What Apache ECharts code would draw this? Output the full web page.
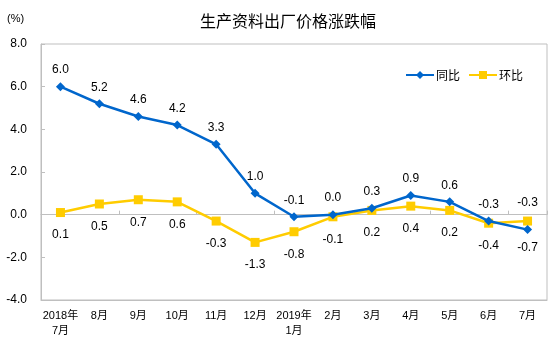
<!DOCTYPE html>
<html>
<head>
<meta charset="utf-8">
<script src="https://cdn.jsdelivr.net/npm/echarts@6/dist/echarts.min.js"></script>
<style>
  html, body { margin: 0; padding: 0; background: #fff; }
  #main { width: 554px; height: 353px; }
</style>
</head>
<body>
<div id="main"></div>
<script>
// 月份
var months = ['2018年\n7月', '8月', '9月', '10月', '11月', '12月', '2019年\n1月', '2月', '3月', '4月', '5月', '6月', '7月']
// 同比 / 环比 (%)
var yoy = [6.0, 5.2, 4.6, 4.2, 3.3, 1.0, -0.1, 0.0, 0.3, 0.9, 0.6, -0.3, -0.7]
var mom = [0.1, 0.5, 0.7, 0.6, -0.3, -1.3, -0.8, -0.1, 0.2, 0.4, 0.2, -0.4, -0.3]
var yTicks = [-4, 8, 2]

var BLUE = '#0066CC'
var YELLOW = '#FFCC00'
var font = 'Arial, "Liberation Sans", "Noto Sans CJK SC", sans-serif'

function fmt (v) { return v.toFixed(1) }

// 最后一个点标签位置互换
var yoyData = yoy.map(function (v, i) {
  if (i === yoy.length - 1) return { value: v, label: { position: 'bottom', distance: 8 } }
  return v
})
var momData = mom.map(function (v, i) {
  if (i === mom.length - 1) return { value: v, label: { position: 'top', distance: 8 } }
  return v
})

var chart = echarts.init(document.getElementById('main'))
chart.setOption({
  animation: false,
  textStyle: { fontFamily: font },
  title: {
    text: '生产资料出厂价格涨跌幅',
    left: 283,
    textAlign: 'center',
    top: 8,
    textStyle: { fontSize: 16, fontWeight: 'normal', color: '#000', fontFamily: '"Noto Sans CJK SC", sans-serif' }
  },
  graphic: [{
    type: 'text',
    left: 7,
    top: 13,
    style: { text: '(%)', font: '11px ' + font, fill: '#000' }
  }],
  legend: {
    right: 26,
    top: 64,
    itemWidth: 28,
    itemHeight: 10,
    itemGap: 8,
    textStyle: { fontSize: 12, color: '#000', padding: [0, 0, 0, -3], fontFamily: '"Noto Sans CJK SC", sans-serif' },
    data: ['同比', '环比']
  },
  grid: {
    left: 41,
    right: 7,
    top: 44,
    bottom: 53,
    show: true,
    borderColor: '#bfbfbf',
    borderWidth: 1,
    containLabel: false
  },
  xAxis: [{
    type: 'category',
    data: months,
    position: 'bottom',
    axisLine: { onZero: false, lineStyle: { color: '#bfbfbf' } },
    axisTick: { show: false },
    axisLabel: { color: '#000', fontSize: 11, margin: 8, lineHeight: 15, interval: 0 },
    splitLine: { show: false }
  }, {
    type: 'category',
    data: months,
    position: 'bottom',
    axisLine: { onZero: true, lineStyle: { color: '#bfbfbf' } },
    axisTick: { show: true, inside: true, length: 4, lineStyle: { color: '#bfbfbf' } },
    axisLabel: { show: false },
    splitLine: { show: false }
  }],
  yAxis: {
    type: 'value',
    min: yTicks[0],
    max: yTicks[1],
    interval: yTicks[2],
    axisLine: { show: true, lineStyle: { color: '#bfbfbf' } },
    axisTick: { show: true, inside: true, length: 4, lineStyle: { color: '#bfbfbf' } },
    axisLabel: { color: '#000', fontSize: 12, margin: 14, formatter: fmt },
    splitLine: { show: false }
  },
  series: [{
    name: '同比',
    type: 'line',
    data: yoyData,
    symbol: 'diamond',
    symbolSize: 9,
    lineStyle: { width: 2.5, color: BLUE },
    itemStyle: { color: BLUE },
    label: {
      show: true,
      position: 'top',
      distance: 6,
      color: '#000',
      fontSize: 12,
      formatter: function (p) { return fmt(p.value) }
    },
    z: 3
  }, {
    name: '环比',
    type: 'line',
    data: momData,
    symbol: 'rect',
    symbolSize: 9,
    lineStyle: { width: 2.5, color: YELLOW },
    itemStyle: { color: YELLOW },
    label: {
      show: true,
      position: 'bottom',
      distance: 12,
      color: '#000',
      fontSize: 12,
      formatter: function (p) { return fmt(p.value) }
    },
    z: 2
  }]
})
</script>
</body>
</html>
